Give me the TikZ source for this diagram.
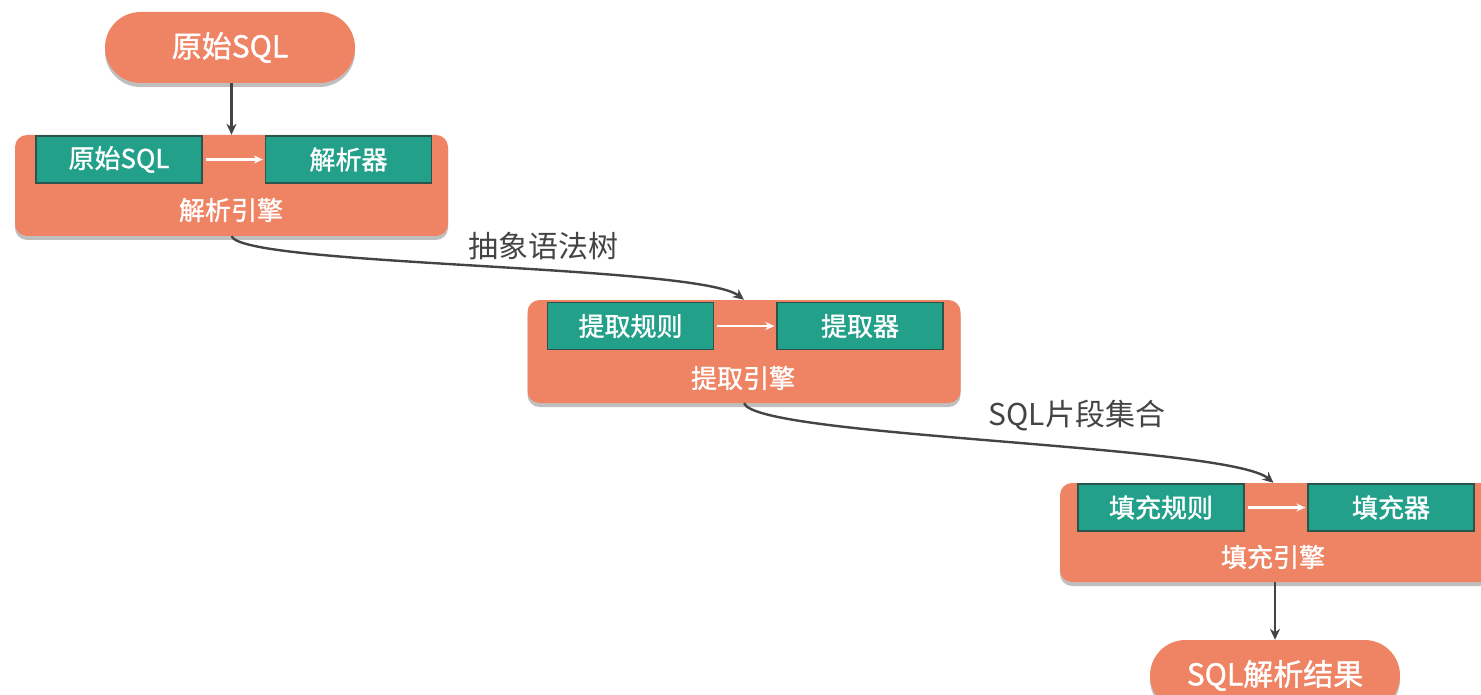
\documentclass[tikz,border=0pt]{standalone}
\usepackage{fontspec}
\setmainfont{Noto Sans CJK SC}
\newfontfamily\medfont{Noto Sans CJK SC}[FakeBold=1.2]
\usetikzlibrary{shapes.misc,shadows,arrows.meta}
\definecolor{salmon}{HTML}{EF8464}
\definecolor{tealc}{HTML}{23A08A}
\definecolor{tborder}{HTML}{2B554C}
\definecolor{connc}{HTML}{444444}
\begin{document}
\begin{tikzpicture}[x=1pt,y=-1pt,
  pill/.style={rounded rectangle, fill=salmon, minimum width=250pt, minimum height=71pt, inner sep=0pt,
    text=white, font=\medfont\fontsize{30}{32}\selectfont,
    drop shadow={shadow xshift=0pt, shadow yshift=-4pt, opacity=0.25, fill=black}},
  engine/.style={rectangle, rounded corners=12pt, fill=salmon, minimum width=433pt, minimum height=101pt, inner sep=0pt,
    drop shadow={shadow xshift=0pt, shadow yshift=-4pt, opacity=0.25, fill=black}},
  tbox/.style={rectangle, fill=tealc, draw=tborder, line width=1.2pt, minimum width=166pt, minimum height=47pt, inner sep=0pt,
    text=white, font=\medfont\fontsize{26}{28}\selectfont},
  elabel/.style={text=white, inner sep=0pt, font=\medfont\fontsize{26}{28}\selectfont},
  clabel/.style={text=connc, inner sep=0pt, font=\fontsize{30}{32}\selectfont},
  connarrow/.style={draw=connc, line width=2.4pt, -{Stealth[length=11pt,width=10pt]}},
  inarrow/.style={draw=white, line width=2.4pt, -{Stealth[length=9pt,width=8pt]}}]
\useasboundingbox (0,0) rectangle (1481,695);
\clip (0,0) rectangle (1481,695);

% top pill
\node[pill] (p1) at (230,47.5) {原始SQL};

% engine 1
\node[engine] (e1) at (231.5,185.5) {};
\node[tbox] (a1) at (119,159.5) {原始SQL};
\node[tbox] (b1) at (348.5,159.5) {解析器};
\node[elabel] (l1) at (231,210) {解析引擎};
\draw[inarrow] ([xshift=3pt]a1.east) -- ([xshift=-2pt]b1.west);

% engine 2
\node[engine, minimum height=103pt] (e2) at (744,351.5) {};
\node[tbox] (a2) at (630.5,326) {提取规则};
\node[tbox] (b2) at (860,326) {提取器};
\node[elabel] (l2) at (743,378) {提取引擎};
\draw[inarrow] ([xshift=3pt]a2.east) -- ([xshift=-2pt]b2.west);

% engine 3
\node[engine, minimum height=99pt] (e3) at (1276.5,532.5) {};
\node[tbox] (a3) at (1161,507.5) {填充规则};
\node[tbox] (b3) at (1391,507.5) {填充器};
\node[elabel] (l3) at (1273,557) {填充引擎};
\draw[inarrow] ([xshift=3pt]a3.east) -- ([xshift=-2pt]b3.west);

% bottom pill
\node[pill] (p2) at (1275,675.5) {SQL解析结果};

% connectors
\draw[connarrow] (p1.south -| e1.north) -- (e1.north);
\draw[connarrow] (e1.south) .. controls +(12,30) and +(-45,-35) .. (e2.north);
\draw[connarrow] (e2.south) .. controls +(12,34) and +(-45,-38) .. ([xshift=-3pt]e3.north);
\draw[connarrow] (p2.north |- e3.south) -- (p2.north);

% connector labels
\node[clabel] (t1) at (543,246) {抽象语法树};
\node[clabel] (t2) at (1077,416) {SQL片段集合};
\end{tikzpicture}
\end{document}
